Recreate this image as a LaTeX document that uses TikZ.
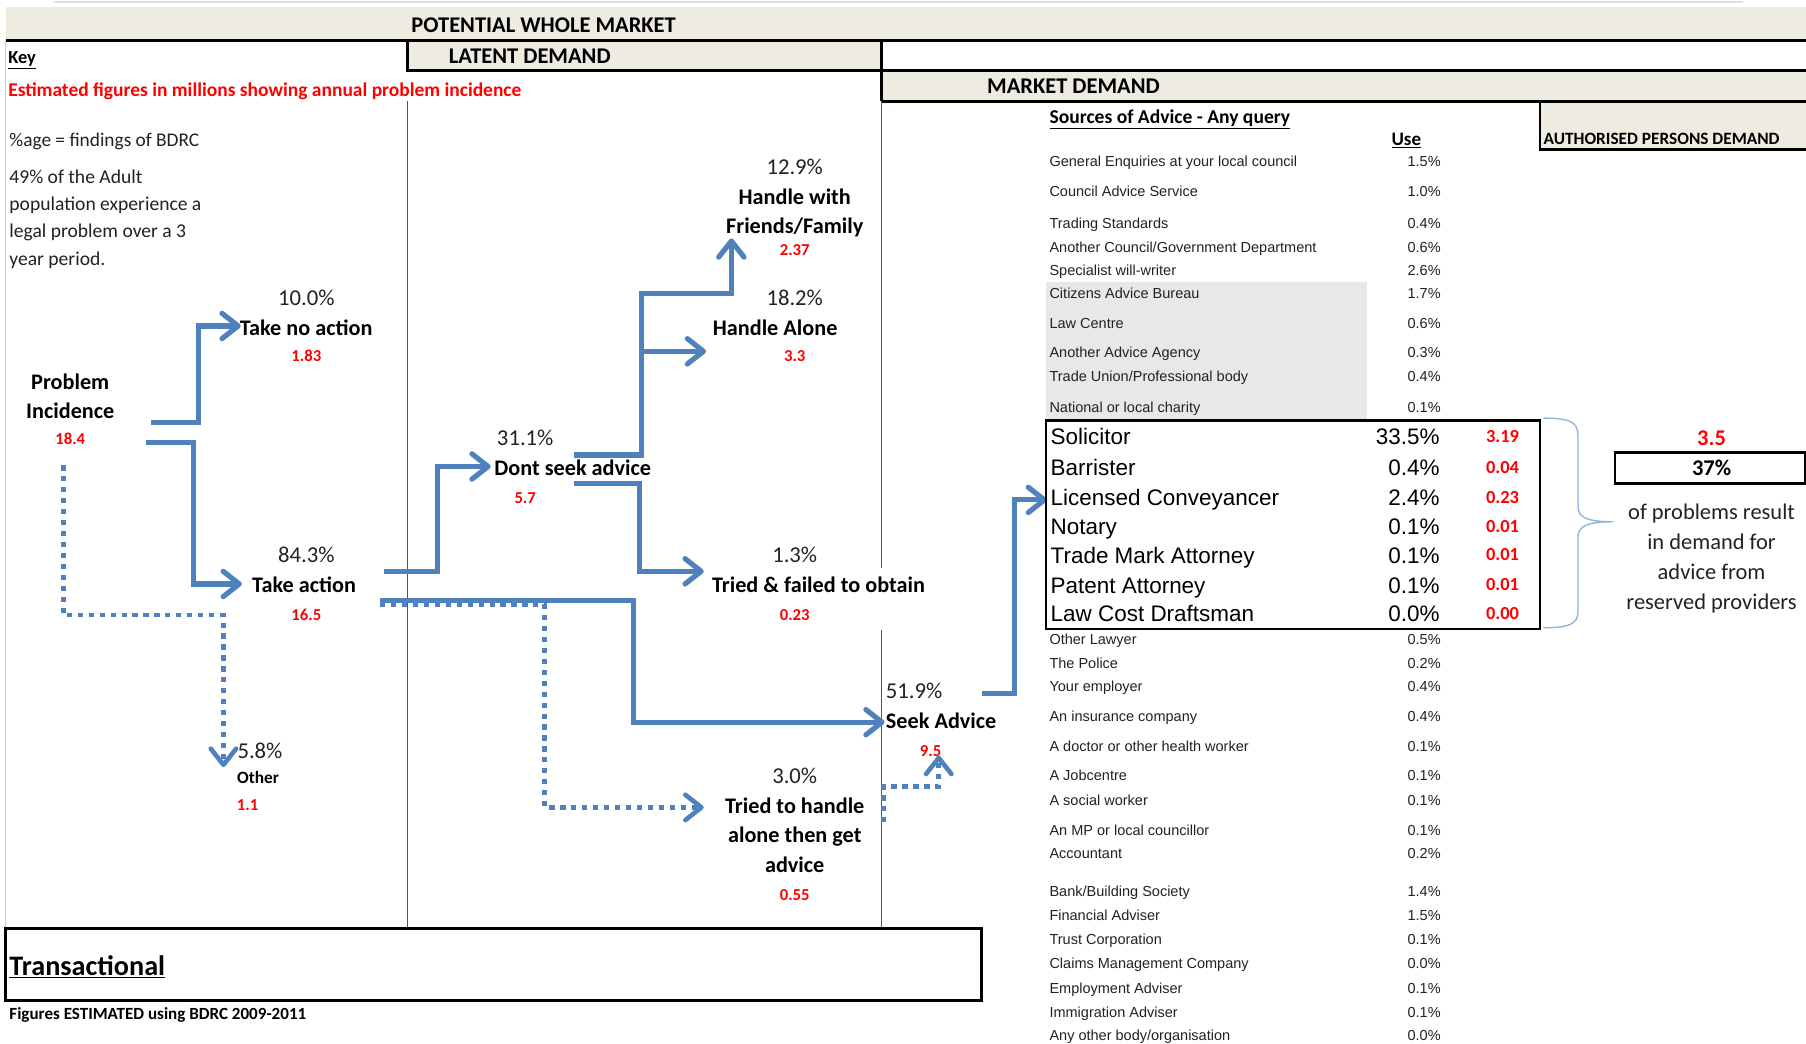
\documentclass[tikz,border=0pt]{standalone}
\usepackage{fontspec}
\setmainfont{Carlito}
\newfontfamily\arialf{Liberation Sans}
\usetikzlibrary{arrows.meta}
\definecolor{flowblue}{HTML}{4F81BD}
\definecolor{beige}{HTML}{EEECE1}
\definecolor{numred}{HTML}{FF0000}
\definecolor{cellgray}{HTML}{E8E8E8}
\definecolor{bracecol}{HTML}{8EB4E3}
\definecolor{ink}{HTML}{222222}
\definecolor{gridgray}{HTML}{555555}
\tikzset{
  every node/.style={inner sep=0pt, text=ink},
  pct/.style={font=\fontsize{19.7}{22}\selectfont, text height=0.65em, text depth=0.15em, yshift=-4pt},
  lbl/.style={font=\bfseries\fontsize{19.3}{25.5}\selectfont, text=black},
  lbl1/.style={lbl, text height=0.65em, text depth=0.15em, yshift=-4pt},
  num/.style={font=\bfseries\fontsize{14.5}{16}\selectfont, text=numred, text height=0.65em, text depth=0.15em, yshift=-3pt},
  hdr/.style={font=\bfseries\fontsize{19.5}{22}\selectfont, text=black, text height=0.65em, text depth=0.15em, yshift=-3.5pt},
  row/.style={font=\arialf\fontsize{12.6}{14}\selectfont, text height=9pt, text depth=2.6pt, yshift=-2pt},
  rowname/.style={row, anchor=west},
  rowval/.style={row, anchor=east},
  bigrow/.style={font=\arialf\fontsize{19.5}{22}\selectfont, text=black, text height=14pt, text depth=4pt, yshift=-2pt},
  bignum/.style={font=\bfseries\fontsize{16}{18}\selectfont, text=numred, text height=0.65em, text depth=0.15em, anchor=east, yshift=-2.5pt},
  keytxt/.style={anchor=west, yshift=-2.5pt},
  frame/.style={draw=black, line width=2.4pt},
  grid/.style={draw=gridgray, line width=1pt},
  flow/.style={draw=flowblue, line width=4.5pt},
  dots/.style={draw=flowblue, line width=4pt, dash pattern=on 4.5pt off 5pt},
  tipr/.style={-{Straight Barb[length=14pt,width=22pt,round]}},
}
\begin{document}
\begin{tikzpicture}[x=1pt,y=-1pt]
\useasboundingbox (0,0) rectangle (1568,906);
\fill[white] (0,0) rectangle (1568,906);

% ---------- header bands ----------
\draw[gray!25, line width=1.5pt] (47,2) -- (1513,2);
\fill[beige] (5,6) rectangle (1568,35);
\fill[beige] (354,35) rectangle (765,61);
\fill[beige] (765,61) rectangle (1568,88);
\fill[beige] (1337,88) rectangle (1568,130);
\draw[frame] (5,35) -- (1568,35);
\draw[frame] (354,35) -- (354,61) -- (1568,61);
\draw[frame] (765,35) -- (765,88);
\draw[frame] (765,88) -- (1568,88);
\draw[frame] (1337,88) -- (1337,130) -- (1568,130);

\node[hdr] (hPot) at (472,22) {POTENTIAL WHOLE MARKET};
\node[hdr] (hLat) at (460,49) {LATENT DEMAND};
\node[hdr] (hMkt) at (932,75) {MARKET DEMAND};
\node[font=\bfseries\fontsize{15}{17}\selectfont, text=black, keytxt, yshift=1.5pt] (hAuth) at (1340,120) {AUTHORISED PERSONS DEMAND};

% ---------- grid lines ----------
\draw[gray!40, line width=0.8pt] (5,35) -- (5,806);
\draw[grid] (354,88) -- (354,806);
\draw[grid] (765,88) -- (765,493);
\draw[grid] (765,547) -- (765,806);

% ---------- key ----------
\node[font=\bfseries\fontsize{16}{18}\selectfont, text=black, keytxt] (key) at (7,50) {\underline{Key}};
\node[font=\bfseries\fontsize{16.9}{19}\selectfont, text=numred, keytxt] (est) at (7,77) {Estimated figures in millions showing annual problem incidence};
\node[font=\fontsize{16.8}{19}\selectfont, keytxt] (age) at (8,120) {\%age = findings of BDRC};
\node[font=\fontsize{17}{23.7}\selectfont, keytxt, align=left, yshift=0.5pt] (adult) at (8,188) {49\% of the Adult\\population experience a\\legal problem over a 3\\year period.};

% ---------- flow labels ----------
\node[lbl, align=center] (pi) at (61,344) {Problem\\Incidence};
\node[num] (n184) at (61,380) {18.4};

\node[pct] (p10) at (266,259) {10.0\%};
\node[lbl1, anchor=west] (tna) at (208,285) {Take no action};
\node[num] (n183) at (266,308) {1.83};

\node[pct] (p843) at (266,482) {84.3\%};
\node[lbl1] (ta) at (264,508) {Take action};
\node[num] (n165) at (266,533) {16.5};

\node[pct, anchor=west] (p58) at (206,652) {5.8\%};
\node[font=\bfseries\fontsize{15}{17}\selectfont, text=black] (oth) at (224,675) {Other};
\node[num] (n11) at (215,698) {1.1};

\node[pct] (p311) at (456,380) {31.1\%};
\node[lbl1, anchor=west] (dsa) at (429,406) {Dont seek advice};
\node[num] (n57) at (456,432) {5.7};

\node[pct] (p129) at (690,145) {12.9\%};
\node[lbl, align=center, yshift=-1.5pt] (hff) at (690,183.5) {Handle with\\Friends/Family};
\node[num] (n237) at (690,216) {2.37};

\node[pct] (p182) at (690,259) {18.2\%};
\node[lbl1] (ha) at (673,285) {Handle Alone};
\node[num] (n33) at (690,308) {3.3};

\node[pct] (p13) at (690,482) {1.3\%};
\node[lbl1, anchor=west] (tf) at (618,508) {Tried \& failed to obtain};
\node[num] (n023) at (690,533) {0.23};

\node[pct] (p30) at (690,674) {3.0\%};
\node[lbl, align=center] (th) at (690,725) {Tried to handle\\alone then get\\advice};
\node[num] (n055) at (690,776) {0.55};

\node[pct, anchor=west] (p519) at (769,600) {51.9\%};
\node[lbl1, anchor=west] (sa) at (769,626) {Seek Advice};
\node[num] (n95) at (808,651) {9.5};

% ---------- connector end points ----------
\coordinate (piA) at (131,367);
\coordinate (piB) at (127,384);
\coordinate (piC) at (55,404);
\coordinate (taA) at (333,496);
\coordinate (taB) at (330,521);
\coordinate (taC) at (330,525);
\coordinate (dsA) at (498,395);
\coordinate (dsB) at (498,420);
\coordinate (saA) at (853,602);
\coordinate (thA) at (767,714);
\coordinate (tnaTip) at (209,283);
\coordinate (taTip) at (210,507);
\coordinate (dsaTip) at (426,405);
\coordinate (othTip) at (194,666);
\coordinate (hffTip) at (635,207);
\coordinate (haTip) at (613,305);
\coordinate (tfTip) at (611,496);
\coordinate (thTip) at (611,701);
\coordinate (saTip) at (768,627);
\coordinate (saUp) at (815,656);
\coordinate (lcTip) at (909,434);

% ---------- connectors ----------
\draw[dots, tipr] (piC) -- (55,534) -| (othTip);
\draw[dots, tipr] (taC) -- (473,525) |- (thTip);
\draw[dots, tipr] (thA) -- (767,683) -| (saUp);
\draw[flow, tipr] (piA) -- (172,367) |- (tnaTip);
\draw[flow, tipr] (piB) -- (168,384) |- (taTip);
\draw[flow, tipr] (taA) -- (380,496) |- (dsaTip);
\draw[flow, tipr] (taB) -- (550,521) |- (saTip);
\draw[flow, tipr] (dsA) -- (557,395) |- (635,255) -- (hffTip);
\draw[flow, tipr] (557,305) -- (haTip);
\draw[flow, tipr] (dsB) -- (555,420) |- (tfTip);
\draw[flow, tipr] (saA) -- (881,602) |- (lcTip);

% ---------- sources of advice table ----------
\fill[cellgray] (908,245) rectangle (1187,364);
\node[font=\bfseries\fontsize{17}{19}\selectfont, text=black, keytxt] (src) at (911,101) {\underline{Sources of Advice - Any query}};
\node[font=\bfseries\fontsize{16.5}{18}\selectfont, text=black, yshift=-2pt] (use) at (1221,120) {\underline{Use}};

\foreach \nm/\vl/\yy [count=\i] in {
  {General Enquiries at your local council}/1.5/139,
  {Council Advice Service}/1.0/165,
  {Trading Standards}/0.4/193,
  {Another Council/Government Department}/0.6/214,
  {Specialist will-writer}/2.6/234,
  {Citizens Advice Bureau}/1.7/254,
  {Law Centre}/0.6/280,
  {Another Advice Agency}/0.3/305,
  {Trade Union/Professional body}/0.4/326,
  {National or local charity}/0.1/353,
  {Other Lawyer}/0.5/554,
  {The Police}/0.2/575,
  {Your employer}/0.4/595,
  {An insurance company}/0.4/621,
  {A doctor or other health worker}/0.1/647,
  {A Jobcentre}/0.1/672,
  {A social worker}/0.1/694,
  {An MP or local councillor}/0.1/720,
  {Accountant}/0.2/740,
  {Bank/Building Society}/1.4/773,
  {Financial Adviser}/1.5/794,
  {Trust Corporation}/0.1/815,
  {Claims Management Company}/0.0/836,
  {Employment Adviser}/0.1/857,
  {Immigration Adviser}/0.1/878,
  {Any other body/organisation}/0.0/898}
{
  \node[rowname] (r\i) at (911,\yy) {\nm};
  \node[rowval] (v\i) at (1251,\yy) {\vl\%};
}

% ---------- reserved providers box ----------
\draw[frame, line width=2.2pt] (908,365) rectangle (1337,546);
\foreach \nm/\vl/\rd/\yy [count=\i] in {
  Solicitor/33.5/3.19/379,
  Barrister/0.4/0.04/406,
  {Licensed Conveyancer}/2.4/0.23/432,
  Notary/0.1/0.01/457,
  {Trade Mark Attorney}/0.1/0.01/482,
  {Patent Attorney}/0.1/0.01/508,
  {Law Cost Draftsman}/0.0/0.00/533}
{
  \node[bigrow, anchor=west] (b\i) at (912,\yy) {\nm};
  \node[bigrow, anchor=east] (bv\i) at (1250,\yy) {\vl\%};
  \node[bignum] (bn\i) at (1319,\yy) {\rd};
}

% brace
\draw[bracecol, line width=1.2pt]
  (1340,363) .. controls (1362,363) and (1370,366) .. (1370,378)
  -- (1370,440) .. controls (1370,450) and (1380,453) .. (1401,453)
  .. controls (1380,453) and (1370,456) .. (1370,466)
  -- (1370,531) .. controls (1370,542) and (1362,545) .. (1340,545);

\node[font=\bfseries\fontsize{19.5}{22}\selectfont, text=numred, text height=0.65em, text depth=0.15em, yshift=-4pt] (tot) at (1486,380) {3.5};
\draw[frame, line width=2.2pt] (1402,393) rectangle (1567,420);
\node[font=\bfseries\fontsize{19.5}{22}\selectfont, text=black, text height=0.65em, text depth=0.15em, yshift=-3.5pt] (p37) at (1486,407) {37\%};
\node[font=\fontsize{19.5}{26}\selectfont, align=center, yshift=-2pt] (res) at (1486,483) {of problems result\\in demand for\\advice from\\reserved providers};

% ---------- bottom ----------
\draw[frame, line width=2.5pt] (5,806) rectangle (852,869);
\node[font=\bfseries\fontsize{24.5}{27}\selectfont, text=black, keytxt, yshift=1pt] (trans) at (8,838) {\underline{Transactional}};
\node[font=\bfseries\fontsize{14.8}{17}\selectfont, text=black, keytxt, yshift=1pt] (figs) at (8,880) {Figures ESTIMATED using BDRC 2009-2011};
\end{tikzpicture}
\end{document}
